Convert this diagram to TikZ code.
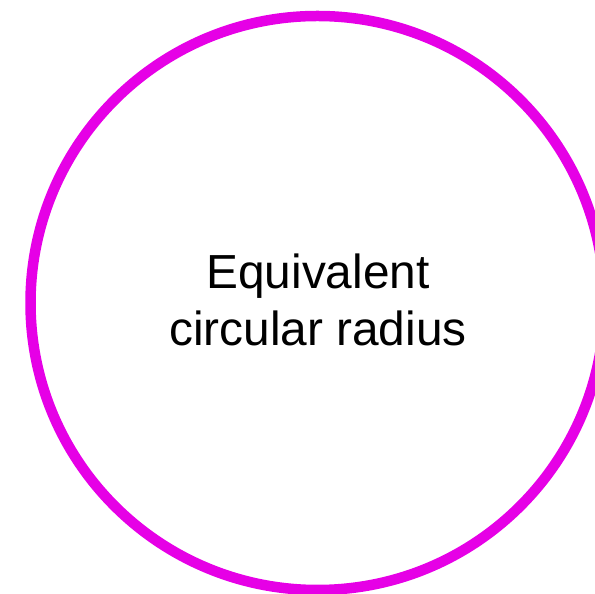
\documentclass[tikz,border=0pt]{standalone}
\usepackage{fontspec}
\setmainfont{Liberation Sans}
\definecolor{ringmag}{HTML}{E600E6}
\tikzset{ring/.style={draw=ringmag, line width=10.5pt},
  label/.style={align=center, font=\fontsize{47.8}{57}\selectfont, inner sep=0pt}}
\begin{document}
\begin{tikzpicture}[x=1pt,y=1pt]
\useasboundingbox (0,0) rectangle (595,594);
\clip (0,0) rectangle (595,594);
\node[ring, circle, minimum size=574pt, inner sep=0pt] (c) at (317.5,291) {};
\node[label] (t) at (318,294) {Equivalent\\circular radius};
\end{tikzpicture}
\end{document}
